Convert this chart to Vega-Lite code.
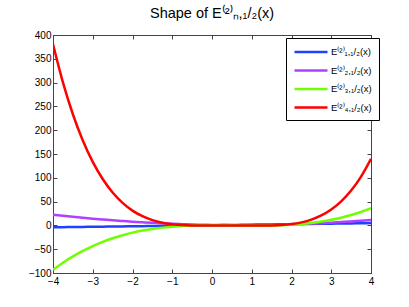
{
  "$schema": "https://vega.github.io/schema/vega-lite/v6.json",
  "autosize": {"type": "none"},
  "width": 318,
  "height": 238,
  "padding": {"left": 53, "top": 35, "right": 38, "bottom": 34},
  "background": "white",
  "config": {
    "view": {"stroke": "black", "strokeWidth": 1},
    "font": "Liberation Sans",
    "axis": {
      "domainColor": "#444",
      "tickColor": "#444",
      "tickSize": -4,
      "labelFont": "Liberation Sans",
      "labelFontSize": 10,
      "labelColor": "black",
      "grid": false,
      "title": null
    }
  },
  "title": {
    "text": "Shape of E⁽²⁾ₙ,₁/₂(x)",
    "font": "Liberation Sans",
    "fontSize": 14.5,
    "fontWeight": "normal",
    "color": "black",
    "anchor": "middle",
    "offset": 9
  },
  "data": {
    "values": [
      {"x": -4, "e1": -4.0, "e2": 22.59, "e3": -93.2, "e4": 380.74},
      {"x": -3.75, "e1": -3.725, "e2": 20.3, "e3": -78.4, "e4": 300.48},
      {"x": -3.5, "e1": -3.45, "e2": 18.14, "e3": -65.23, "e4": 233.49},
      {"x": -3.25, "e1": -3.175, "e2": 16.1, "e3": -53.6, "e4": 178.27},
      {"x": -3, "e1": -2.9, "e2": 14.19, "e3": -43.42, "e4": 133.34},
      {"x": -2.75, "e1": -2.625, "e2": 12.4, "e3": -34.58, "e4": 97.37},
      {"x": -2.5, "e1": -2.35, "e2": 10.74, "e3": -27.0, "e4": 69.09},
      {"x": -2.25, "e1": -2.075, "e2": 9.2, "e3": -20.58, "e4": 47.35},
      {"x": -2, "e1": -1.8, "e2": 7.79, "e3": -15.24, "e4": 31.06},
      {"x": -1.75, "e1": -1.525, "e2": 6.5, "e3": -10.86, "e4": 19.26},
      {"x": -1.5, "e1": -1.25, "e2": 5.34, "e3": -7.37, "e4": 11.06},
      {"x": -1.25, "e1": -0.975, "e2": 4.3, "e3": -4.67, "e4": 5.67},
      {"x": -1, "e1": -0.7, "e2": 3.39, "e3": -2.66, "e4": 2.39},
      {"x": -0.75, "e1": -0.425, "e2": 2.6, "e3": -1.25, "e4": 0.63},
      {"x": -0.5, "e1": -0.15, "e2": 1.94, "e3": -0.34, "e4": -0.13},
      {"x": -0.25, "e1": 0.125, "e2": 1.4, "e3": 0.15, "e4": -0.3},
      {"x": 0, "e1": 0.4, "e2": 0.99, "e3": 0.32, "e4": -0.2},
      {"x": 0.25, "e1": 0.675, "e2": 0.7, "e3": 0.27, "e4": -0.055},
      {"x": 0.5, "e1": 0.95, "e2": 0.54, "e3": 0.09, "e4": 0.0},
      {"x": 0.75, "e1": 1.225, "e2": 0.5, "e3": -0.13, "e4": -0.075},
      {"x": 1, "e1": 1.5, "e2": 0.59, "e3": -0.3, "e4": -0.22},
      {"x": 1.25, "e1": 1.775, "e2": 0.8, "e3": -0.31, "e4": -0.3},
      {"x": 1.5, "e1": 2.05, "e2": 1.14, "e3": -0.08, "e4": -0.06},
      {"x": 1.75, "e1": 2.325, "e2": 1.6, "e3": 0.49, "e4": 0.83},
      {"x": 2, "e1": 2.6, "e2": 2.19, "e3": 1.48, "e4": 2.8},
      {"x": 2.25, "e1": 2.875, "e2": 2.9, "e3": 3.01, "e4": 6.37},
      {"x": 2.5, "e1": 3.15, "e2": 3.74, "e3": 5.15, "e4": 12.16},
      {"x": 2.75, "e1": 3.425, "e2": 4.7, "e3": 8.0, "e4": 20.88},
      {"x": 3, "e1": 3.7, "e2": 5.79, "e3": 11.66, "e4": 33.34},
      {"x": 3.25, "e1": 3.975, "e2": 7.0, "e3": 16.23, "e4": 50.43},
      {"x": 3.5, "e1": 4.25, "e2": 8.34, "e3": 21.78, "e4": 73.15},
      {"x": 3.75, "e1": 4.525, "e2": 9.8, "e3": 28.42, "e4": 102.58},
      {"x": 4, "e1": 4.8, "e2": 11.39, "e3": 36.24, "e4": 139.89}
    ]
  },
  "transform": [{"fold": ["e1", "e2", "e3", "e4"], "as": ["series", "value"]}],
  "layer": [
    {
      "mark": {"type": "line", "strokeWidth": 2.5, "interpolate": "monotone", "clip": true},
      "encoding": {
        "x": {
          "field": "x", "type": "quantitative",
          "scale": {"domain": [-4, 4], "nice": false, "zero": false},
          "axis": {"orient": "bottom", "values": [-4, -3, -2, -1, 0, 1, 2, 3, 4], "labelPadding": 7, "labelFlush": false}
        },
        "y": {
          "field": "value", "type": "quantitative",
          "scale": {"domain": [-100, 400], "nice": false, "zero": false},
          "axis": {"orient": "left", "values": [-100, -50, 0, 50, 100, 150, 200, 250, 300, 350, 400], "labelPadding": 6, "labelFlush": false}
        },
        "color": {
          "field": "series", "type": "nominal",
          "scale": {"domain": ["e1", "e2", "e3", "e4"], "range": ["#2040ff", "#b040ff", "#70ff00", "#ff0000"]},
          "legend": {
            "title": null,
            "orient": "none",
            "legendX": 233,
            "legendY": 3,
            "direction": "vertical",
            "fillColor": "white",
            "strokeColor": "black",
            "padding": 7,
            "symbolType": "M-1,0H5",
            "symbolSize": 121,
            "symbolStrokeWidth": 2.5,
            "rowPadding": 6.5,
            "labelFontSize": 9.5,
            "labelFont": "Liberation Sans",
            "labelColor": "black",
            "labelOffset": 24,
            "labelExpr": "datum.value == 'e1' ? 'E⁽²⁾₁,₁/₂(x)' : datum.value == 'e2' ? 'E⁽²⁾₂,₁/₂(x)' : datum.value == 'e3' ? 'E⁽²⁾₃,₁/₂(x)' : 'E⁽²⁾₄,₁/₂(x)'"
          }
        }
      }
    },
    {
      "mark": {"type": "point", "opacity": 0},
      "encoding": {
        "x": {
          "field": "x", "type": "quantitative",
          "axis": {"orient": "top", "values": [-4, -3, -2, -1, 0, 1, 2, 3, 4], "labels": false}
        },
        "y": {
          "field": "value", "type": "quantitative",
          "axis": {"orient": "right", "values": [-100, -50, 0, 50, 100, 150, 200, 250, 300, 350, 400], "labels": false}
        }
      }
    }
  ],
  "resolve": {"axis": {"x": "independent", "y": "independent"}}
}
